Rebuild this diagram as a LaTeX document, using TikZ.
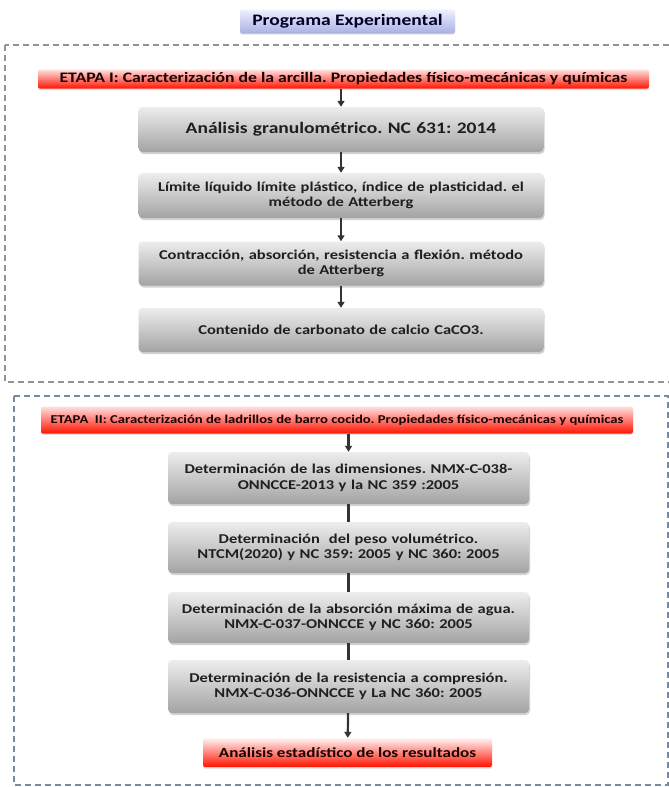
\documentclass[tikz,border=0pt]{standalone}
\usepackage{fontspec}
\setmainfont{Carlito}[FakeStretch=1.22]
\frenchspacing
\usetikzlibrary{arrows.meta,shadows}

\definecolor{bordeazul}{RGB}{118,138,165}
\definecolor{lavanda}{RGB}{168,176,226}

\tikzset{
  greybox/.style={rounded corners=4pt, top color=gray!14, bottom color=gray!72,
    drop shadow={opacity=0.35, shadow xshift=1pt, shadow yshift=-2pt},
    text=black!88, font=\bfseries\fontsize{13.5}{15.5}\selectfont, align=center,
    inner sep=0pt, minimum width=405pt, text width=398pt},
  redbar/.style={rounded corners=2pt, top color=red!12, bottom color=red!85!orange,
    drop shadow={opacity=0.25, shadow xshift=0pt, shadow yshift=-1.5pt},
    text=black!90!red, font=\bfseries, align=center, inner sep=0pt},
  etapa/.style={dash pattern=on 6pt off 4pt, line width=1.4pt},
  flecha/.style={line width=2.2pt, black!80, -{Triangle[length=6pt,width=7pt]}},
  linea/.style={line width=2.2pt, black!80}
}

\begin{document}
\begin{tikzpicture}[x=1pt,y=-1pt]
  \useasboundingbox (0,0) rectangle (669,787);
  \clip (0,0) rectangle (669,787);
  \fill[white] (0,0) rectangle (669,787);

  \draw (347.5,21.5) node[rounded corners=2pt, top color=blue!6, bottom color=lavanda,
    drop shadow={opacity=0.2, shadow xshift=0pt, shadow yshift=-1pt},
    minimum width=215pt, minimum height=24pt, inner sep=0pt,
    font=\bfseries\fontsize{16}{18}\selectfont, text=black!85!blue] (titulo) {Programa Experimental};

  \draw[etapa, gray!85] (5,45) rectangle (690,382);
  \draw (343.5,79) node[redbar, minimum width=611pt, minimum height=19pt,
    font=\bfseries\fontsize{14.5}{16}\selectfont] (etapa1) {ETAPA I: Caracterización de la arcilla. Propiedades físico-mecánicas y químicas};
  \draw (341,129.5) node[greybox, minimum height=45pt, font=\bfseries\fontsize{16}{18}\selectfont] (granulo) {Análisis granulométrico. NC 631: 2014};
  \draw (341,195.5) node[greybox, minimum height=45pt] (atterberg) {Límite líquido límite plástico, índice de plasticidad. el\\ método de Atterberg};
  \draw (341,263.5) node[greybox, minimum height=44pt] (contraccion) {Contracción, absorción, resistencia a flexión. método\\ de Atterberg};
  \draw (341,330) node[greybox, minimum height=44pt] (carbonato) {Contenido de carbonato de calcio CaCO3.};
  \draw[flecha] (etapa1.south -| granulo.north) -- (granulo.north);
  \draw[flecha] (granulo) -- (atterberg);
  \draw[flecha] (atterberg) -- (contraccion);
  \draw[flecha] (contraccion) -- (carbonato);

  \draw[etapa, bordeazul] (14,396) rectangle (668,785);
  \draw (337,420) node[redbar, minimum width=592pt, minimum height=27pt,
    font=\bfseries\fontsize{12}{14}\selectfont] (etapa2) {ETAPA \ II: Caracterización de ladrillos de barro cocido. Propiedades físico-mecánicas y químicas};
  \draw (348.5,478) node[greybox, minimum width=361pt, text width=355pt, minimum height=52pt] (dimensiones) {Determinación de las dimensiones. NMX-C-038-\\ ONNCCE-2013 y la NC 359 :2005};
  \draw (348.5,547.5) node[greybox, minimum width=361pt, text width=355pt, minimum height=51pt] (peso) {Determinación \ del peso volumétrico.\\ NTCM(2020) y NC 359: 2005 y NC 360: 2005};
  \draw (348.5,617.5) node[greybox, minimum width=361pt, text width=355pt, minimum height=51pt] (absorcion) {Determinación de la absorción máxima de agua.\\ NMX-C-037-ONNCCE y NC 360: 2005};
  \draw (348.5,686.5) node[greybox, minimum width=361pt, text width=355pt, minimum height=53pt] (compresion) {Determinación de la resistencia a compresión.\\ NMX-C-036-ONNCCE y La NC 360: 2005};
  \draw (347.5,752.5) node[redbar, top color=red!4, minimum width=289pt, minimum height=29pt,
    font=\bfseries\fontsize{14}{16}\selectfont] (estadistico) {Análisis estadístico de los resultados};
  \draw[flecha] (etapa2.south -| dimensiones.north) -- (dimensiones.north);
  \draw[linea] (dimensiones) -- (peso);
  \draw[linea] (peso) -- (absorcion);
  \draw[linea] (absorcion) -- (compresion);
  \draw[flecha] (compresion) -- (estadistico);
\end{tikzpicture}
\end{document}
